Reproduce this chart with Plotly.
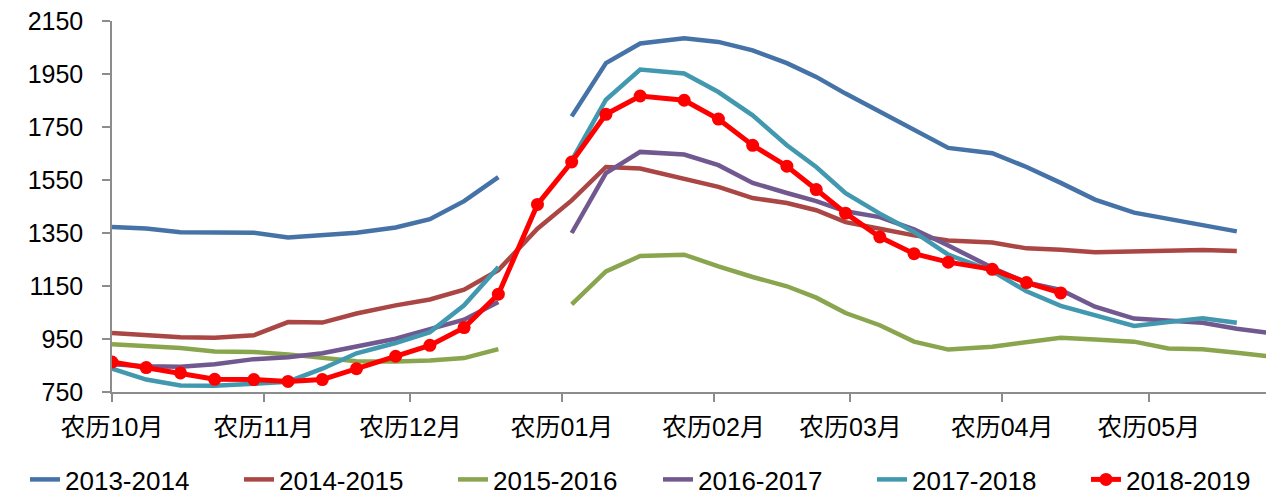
import plotly.graph_objects as go

# Dates (mapped onto the lunar season axis)
dates = ["2018-10-01", "2018-10-08", "2018-10-15", "2018-10-22", "2018-10-30", "2018-11-06",
         "2018-11-13", "2018-11-20", "2018-11-28", "2018-12-05", "2018-12-12", "2018-12-19",
         "2018-12-27", "2019-01-03", "2019-01-10", "2019-01-17", "2019-01-26", "2019-02-02",
         "2019-02-09", "2019-02-16", "2019-02-22", "2019-02-28", "2019-03-07", "2019-03-14",
         "2019-03-21", "2019-03-30", "2019-04-06", "2019-04-13", "2019-04-20", "2019-04-28",
         "2019-05-05", "2019-05-12", "2019-05-19", "2019-05-25"]

s2013_2014 = [1373, 1367, 1353, 1352, 1351, 1333, 1340, 1351, 1371, 1402, 1470, 1561,
              None, 1790, 1991, 2065, 2085, 2071, 2039, 1991, 1939, 1876, 1807, 1738,
              1671, 1651, 1599, 1539, 1476, 1427, 1404, 1379, 1356, None]
s2014_2015 = [973, 966, 957, 955, 964, 1014, 1012, 1046, 1077, 1099, 1136, 1210,
              1366, 1473, 1599, 1593, 1553, 1524, 1482, 1463, 1436, 1391, 1366, 1341,
              1322, 1314, 1292, 1287, 1277, 1280, 1286, 1286, 1282, None]
s2015_2016 = [930, 923, 916, 903, 901, 892, 880, 866, 865, 869, 878, 912,
              None, 1081, 1205, 1263, 1268, 1224, 1184, 1149, 1106, 1048, 1002, 940,
              910, 921, 940, 955, 948, 940, 914, 911, 898, 886]
s2016_2017 = [855, 847, 845, 855, 874, 881, 896, 921, 951, 987, 1023, 1090,
              None, 1350, 1576, 1656, 1646, 1606, 1539, 1501, 1470, 1432, 1410, 1364,
              1303, 1219, 1163, 1135, 1072, 1027, 1021, 1011, 989, 974]
s2017_2018 = [838, 797, 775, 774, 781, 789, 838, 896, 935, 976, 1077, 1222,
              None, 1624, 1853, 1967, 1952, 1882, 1794, 1681, 1599, 1500, 1423, 1354,
              1268, 1206, 1130, 1075, 1039, 999, 1014, 1028, 1011, None]
s2018_2019 = [863, 842, 822, 798, 797, 790, 797, 838, 885, 926, 993, 1119,
              1458, 1618, 1798, 1867, 1851, 1780, 1681, 1602, 1514, 1425, 1335, 1272,
              1240, 1213, 1163, 1124]

tick_dates = ["2018-10-01", "2018-11-01", "2018-12-01", "2019-01-01", "2019-02-01",
              "2019-03-01", "2019-04-01", "2019-05-01"]
tick_labels = ["农历10月", "农历11月", "农历12月", "农历01月", "农历02月",
               "农历03月", "农历04月", "农历05月"]

series = [
    ("2013-2014", s2013_2014, "#4572A7", "legend"),
    ("2014-2015", s2014_2015, "#AA4643", "legend"),
    ("2015-2016", s2015_2016, "#89A54E", "legend"),
    ("2016-2017", s2016_2017, "#71588F", "legend2"),
    ("2017-2018", s2017_2018, "#4198AF", "legend2"),
]

FONT = "Liberation Sans, Arial, Noto Sans CJK SC, sans-serif"

fig = go.Figure()
for name, vals, color, lg in series:
    fig.add_trace(go.Scatter(x=dates[:len(vals)], y=vals, name=name, mode="lines",
                             line=dict(color=color, width=4.5), connectgaps=False,
                             legend=lg))
fig.add_trace(go.Scatter(x=dates[:len(s2018_2019)], y=s2018_2019, name="2018-2019",
                         mode="lines+markers",
                         line=dict(color="#FF0000", width=5),
                         marker=dict(color="#FF0000", size=13), legend="legend2"))

W, H = 1266, 495  # page has an 8px body margin
axis_col = "#8C8C8C"
leg_common = dict(orientation="h", xref="container", yref="container",
                  yanchor="bottom", xanchor="left", y=0,
                  entrywidth=169, entrywidthmode="pixels",
                  font=dict(size=26, family=FONT), itemwidth=30,
                  bgcolor="rgba(0,0,0,0)")
fig.update_layout(
    width=W, height=H,
    margin=dict(l=104, r=5, t=13, b=111, autoexpand=False),
    paper_bgcolor="white", plot_bgcolor="white",
    font=dict(family=FONT, size=24, color="black"),
    showlegend=True,
    legend=dict(x=17 / W, **leg_common),
    legend2=dict(x=(17 + 3 * 211) / W, **leg_common),
    xaxis=dict(type="date", range=["2018-10-01", "2019-05-25 14:00"],
               tickmode="array", tickvals=tick_dates, ticktext=tick_labels,
               showgrid=False, zeroline=False, showline=True, linecolor=axis_col,
               linewidth=1.5, ticks="outside", ticklen=8, tickcolor=axis_col,
               tickwidth=1.5, ticklabelstandoff=4, ticklabeloverflow="allow",
               tickfont=dict(size=25, family=FONT)),
    yaxis=dict(range=[750, 2150], tick0=750, dtick=200, showgrid=False,
               zeroline=False, showline=True, linecolor=axis_col, linewidth=1.5,
               ticks="outside", ticklen=8, tickcolor=axis_col, tickwidth=1.5,
               ticklabelstandoff=14, ticklabeloverflow="allow",
               tickfont=dict(size=25, family=FONT)),
)

fig.write_html("out.html")
